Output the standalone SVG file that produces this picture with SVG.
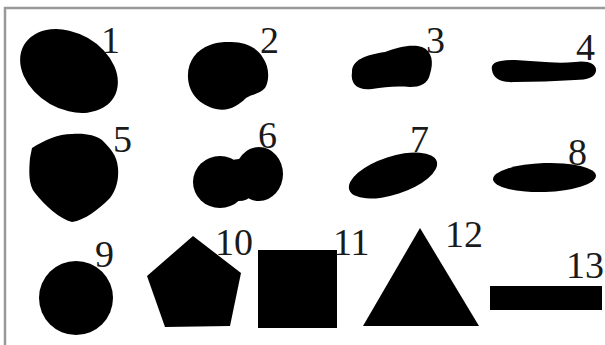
<svg xmlns="http://www.w3.org/2000/svg" width="605" height="345" viewBox="0 0 605 345">
<style>
.s{fill:#000}
.lbl{font-family:"Liberation Serif","Times New Roman",serif;font-size:38px;fill:#1a1a1a}
.frame{fill:none;stroke:#999;stroke-width:2.5}
</style>
<rect x="0" y="0" width="605" height="345" fill="#fff"/>
<path class="frame" d="M5,345 V8 H605"/>
<g id="shape1">
<ellipse class="s" cx="69" cy="71" rx="52" ry="38" transform="rotate(30 69 71)"/>
<text class="lbl" x="101" y="53">1</text>
</g>
<g id="shape2">
<path class="s" d="M228,42 C245,41 258,48 263,58 C269,66 270,80 265,88 C260,94 252,94 246,98 C238,106 228,112 216,109 C200,105 189,94 188,78 C187,62 196,50 210,45 C218,42 223,42 228,42 Z"/>
<text class="lbl" x="260" y="53">2</text>
</g>
<g id="shape3">
<path class="s" d="M352,72 C352,60 365,55 385,52 C398,47 412,44 422,47 C432,51 434,62 430,74 C428,84 420,87 410,87 C395,86 385,87 372,89 C358,91 350,84 352,72 Z"/>
<text class="lbl" x="426" y="53">3</text>
</g>
<g id="shape4">
<path class="s" d="M492,70 C490,62 500,60 515,60 C535,61 555,64 575,62 C588,60 597,64 596,71 C595,77 588,80 575,80 C555,81 535,82 515,82 C500,83 493,78 492,70 Z"/>
<text class="lbl" x="576" y="60">4</text>
</g>
<g id="shape5">
<path class="s" d="M32,148 C45,140 58,134 72,134 C85,133 95,135 102,140 C110,148 117,155 118,168 C119,180 116,190 110,198 C98,210 85,220 72,222 C60,219 45,206 35,193 C28,185 29,170 30,158 Z"/>
<text class="lbl" x="113" y="152">5</text>
</g>
<g id="shape6">
<ellipse class="s" cx="220" cy="182" rx="27" ry="26"/>
<ellipse class="s" cx="259" cy="174" rx="24" ry="27"/>
<ellipse class="s" cx="239" cy="180" rx="20" ry="21"/>
<text class="lbl" x="258" y="148">6</text>
</g>
<g id="shape7">
<ellipse class="s" cx="393" cy="175.5" rx="46" ry="19" transform="rotate(-18 393 175.5)"/>
<text class="lbl" x="410" y="152">7</text>
</g>
<g id="shape8">
<ellipse class="s" cx="544.5" cy="177.5" rx="51.5" ry="14.5" transform="rotate(-2 544.5 177.5)"/>
<text class="lbl" x="568" y="165">8</text>
</g>
<g id="shape9">
<circle class="s" cx="76" cy="298" r="37"/>
<text class="lbl" x="95" y="267">9</text>
</g>
<g id="shape10">
<polygon class="s" points="193,236 241,273 230,326 165,327 147,276"/>
<text class="lbl" x="215" y="255">10</text>
</g>
<g id="shape11">
<rect class="s" x="258" y="250" width="79" height="78"/>
<text class="lbl" x="333" y="255">11</text>
</g>
<g id="shape12">
<polygon class="s" points="420,228 479,326 363,326"/>
<text class="lbl" x="445" y="247">12</text>
</g>
<g id="shape13">
<rect class="s" x="490" y="286" width="112" height="24"/>
<text class="lbl" x="566" y="278">13</text>
</g>
</svg>
